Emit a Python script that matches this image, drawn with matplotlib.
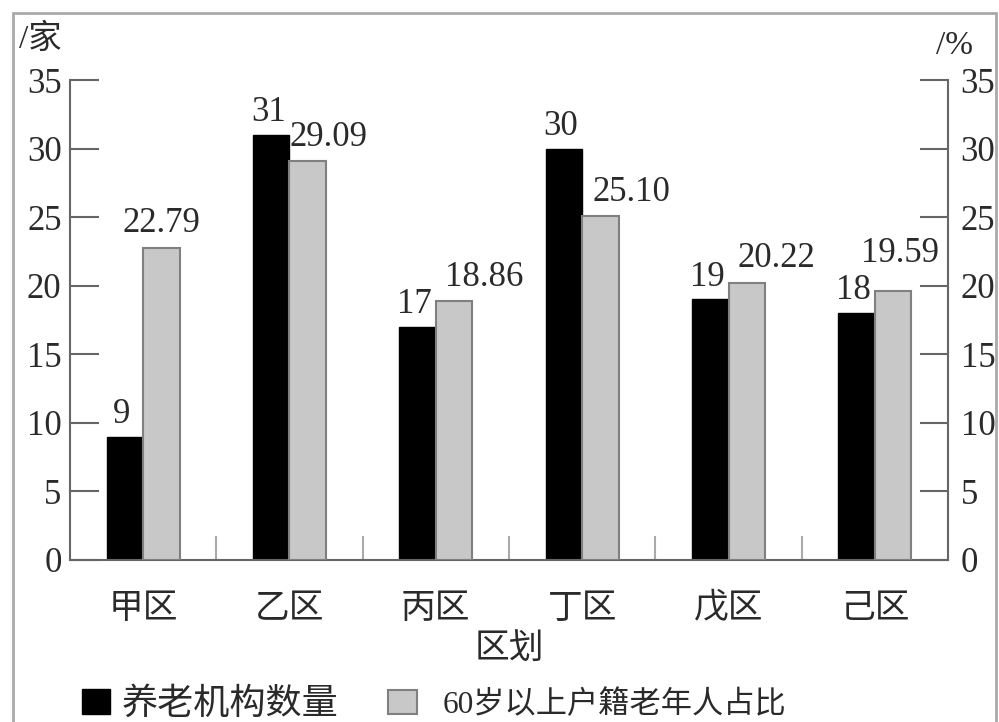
import matplotlib.pyplot as plt
from matplotlib.patches import Rectangle, Patch

plt.rcParams['font.family'] = ['Liberation Serif', 'Noto Sans CJK SC']

# 数据
districts = ['甲区', '乙区', '丙区', '丁区', '戊区', '己区']
institutions = [9, 31, 17, 30, 19, 18]          # 养老机构数量（家）
elderly_ratio = [22.79, 29.09, 18.86, 25.10, 20.22, 19.59]  # 60岁以上户籍老年人占比（%）
ratio_labels = ['22.79', '29.09', '18.86', '25.10', '20.22', '19.59']
yticks = [0, 5, 10, 15, 20, 25, 30, 35]

# 标注的水平/垂直偏移（点），避免压到黑色柱子
ratio_dx = [0, 15, 22, 22, 21, 5]
ratio_dy = [11, 11, 11, 11, 11, 21]

fs = 25
axis_col = '#666666'
txt_col = '#2a2a2a'

fig = plt.figure(figsize=(9.99, 7.22), dpi=100)
ax = fig.add_axes([0.070, 0.2244, 0.879, 0.6646])
ax2 = ax.twinx()

x = list(range(len(districts)))
w = 0.25
ax.bar([i - w / 2 for i in x], institutions, width=w, color='black', edgecolor='black', linewidth=1)
ax2.bar([i + w / 2 for i in x], elderly_ratio, width=w, color='#c8c8c8', edgecolor='#808080', linewidth=1.5)

# 数值标注
for i, v in enumerate(institutions):
    ax.annotate(str(v), (i - w / 2, v), xytext=(-2, 10), textcoords='offset points',
                ha='center', va='baseline', fontsize=fs, color=txt_col)
for i, v in enumerate(elderly_ratio):
    ax2.annotate(ratio_labels[i], (i + w / 2, v), xytext=(ratio_dx[i], ratio_dy[i]),
                 textcoords='offset points', ha='center', va='baseline', fontsize=fs, color=txt_col)

for a in (ax, ax2):
    a.set_xlim(-0.5, 5.5)
    a.set_ylim(0, 35)
    a.set_yticks(yticks)
    a.spines['top'].set_visible(False)
    for s in a.spines.values():
        s.set_color(axis_col)
        s.set_linewidth(1.5)

ax.spines['right'].set_visible(False)
ax2.spines['left'].set_visible(False)
ax2.spines['bottom'].set_visible(False)

ax.tick_params(axis='y', direction='in', length=21, width=1.5, color=axis_col,
               labelsize=fs, labelcolor=txt_col, pad=6)
ax2.tick_params(axis='y', direction='in', length=20, width=1.5, color=axis_col,
                labelsize=fs, labelcolor=txt_col, pad=9)

ax.set_xticks(x)
ax.set_xticklabels(districts)
ax.set_xticks([i + 0.5 for i in x[:-1]], minor=True)
ax.tick_params(axis='x', which='major', length=0, labelsize=fs, labelcolor=txt_col, pad=24)
ax.tick_params(axis='x', which='minor', direction='in', length=17, width=1.5, color='#aaaaaa')
ax.set_xlabel('区划', fontsize=fs, color=txt_col, labelpad=5)

fig.text(0.019, 0.945, '/家', fontsize=fs - 1, color=txt_col, ha='left', va='center')
fig.text(0.937, 0.937, '/%', fontsize=fs - 1, color=txt_col, ha='left', va='center')

# 图例：两项字号不同，分开放
leg1 = fig.legend([Patch(facecolor='black', edgecolor='black')], ['养老机构数量'],
                  loc='center left', bbox_to_anchor=(0.082, 0.023), frameon=False,
                  fontsize=26, handlelength=0.78, handleheight=0.69, handletextpad=0.33,
                  labelcolor=txt_col, borderpad=0, borderaxespad=0)
leg2 = fig.legend([Patch(facecolor='#c8c8c8', edgecolor='#808080', linewidth=1.5)],
                  ['60岁以上户籍老年人占比'],
                  loc='center left', bbox_to_anchor=(0.388, 0.023), frameon=False,
                  fontsize=22.5, handlelength=0.93, handleheight=0.8, handletextpad=0.84,
                  labelcolor=txt_col, borderpad=0, borderaxespad=0)

# 外框
fig.patches.append(Rectangle((0.013, -0.1), 0.984, 1.082, transform=fig.transFigure,
                             fill=False, edgecolor='#aaaaaa', linewidth=2))

fig.savefig('out.png', dpi=100)
